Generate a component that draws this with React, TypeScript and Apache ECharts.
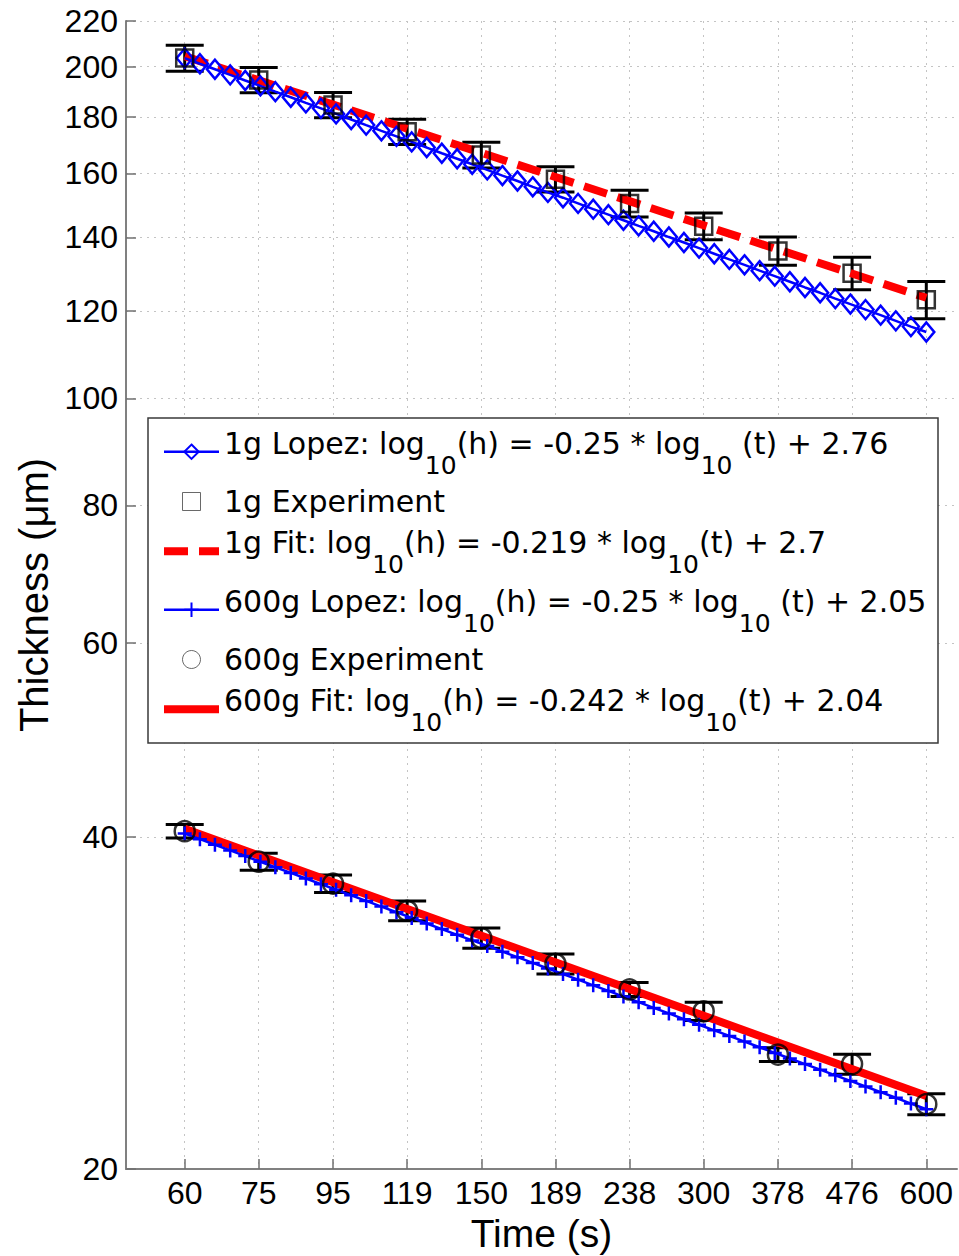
import React, { useEffect, useRef } from 'react';
import * as echarts from 'echarts';

// ---------- axis ticks ----------
const xTickValues = [60, 75.5, 95.1, 119.7, 150.7, 189.7, 238.8, 300.6, 378.5, 476.5, 600];
const xTickLabels = ['60', '75', '95', '119', '150', '189', '238', '300', '378', '476', '600'];
const yTickValues = [20, 40, 60, 80, 100, 120, 140, 160, 180, 200, 220];
const xMin = 50;
const xMax = 660;
const yMin = 20;
const yMax = 220;

// ---------- experiments ----------
const expTimes = [60, 75.5, 95.1, 119.7, 150.7, 189.7, 238.8, 300.6, 378.5, 476.5, 600];
const exp1g = [203.6, 194.5, 184.6, 174.6, 166.3, 158.1, 150.3, 143.3, 136.1, 129.9, 122.9];
const err1g = [5.5, 5.1, 4.9, 4.6, 4.5, 4.2, 4.2, 4.0, 4.0, 4.4, 4.8];
const exp600g = [40.5, 38.0, 36.3, 34.3, 32.4, 30.7, 29.1, 27.8, 25.4, 24.9, 22.9];
const err600g = [0.57, 0.67, 0.66, 0.7, 0.68, 0.64, 0.43, 0.53, 0.37, 0.52, 0.5];

// ---------- Lopez model curves ----------
const lopezTimes = [60.0, 62.9, 65.9, 69.1, 72.4, 75.9, 79.5, 83.4, 87.4, 91.6, 96.0, 100.6, 105.4, 110.5, 115.8, 121.4, 127.2, 133.3, 139.8, 146.5, 153.5, 160.9, 168.6, 176.8, 185.3, 194.2, 203.5, 213.3, 223.6, 234.3, 245.6, 257.4, 269.8, 282.7, 296.3, 310.6, 325.5, 341.2, 357.6, 374.8, 392.8, 411.7, 431.5, 452.3, 474.0, 496.8, 520.7, 545.8, 572.0, 600.0];
const lopez1g = [203.6, 201.2, 198.9, 196.6, 194.3, 192.1, 189.8, 187.6, 185.4, 183.3, 181.2, 179.1, 177.0, 174.9, 172.9, 170.9, 168.9, 166.9, 165.0, 163.1, 161.2, 159.3, 157.5, 155.6, 153.8, 152.1, 150.3, 148.5, 146.8, 145.1, 143.4, 141.8, 140.1, 138.5, 136.9, 135.3, 133.7, 132.2, 130.6, 129.1, 127.6, 126.1, 124.7, 123.2, 121.8, 120.4, 119.0, 117.6, 116.2, 114.9];
const lopez600g = [40.3, 39.83, 39.37, 38.91, 38.45, 38.0, 37.56, 37.12, 36.69, 36.26, 35.84, 35.42, 35.01, 34.6, 34.19, 33.79, 33.4, 33.01, 32.62, 32.24, 31.87, 31.49, 31.13, 30.76, 30.4, 30.05, 29.7, 29.35, 29.01, 28.67, 28.34, 28.0, 27.68, 27.35, 27.03, 26.72, 26.41, 26.1, 25.79, 25.49, 25.19, 24.9, 24.61, 24.32, 24.04, 23.76, 23.48, 23.21, 22.93, 22.66];

// ---------- fits ----------
const fitTimes = [60, 600];
const fit1g = [204.4, 123.4];
const fit600g = [40.7, 23.3];

// ---------- names ----------
const N1 = '1g Lopez: log10(h) = -0.25 * log10 (t) + 2.76';
const N2 = '1g Experiment';
const N3 = '1g Fit: log10(h) = -0.219 * log10(t) + 2.7';
const N4 = '600g Lopez: log10(h) = -0.25 * log10 (t) + 2.05';
const N5 = '600g Experiment';
const N6 = '600g Fit: log10(h) = -0.242 * log10(t) + 2.04';

const AX_FONT = "'Liberation Sans', Arial, Helvetica, sans-serif";
const LG_FONT = "'DejaVu Sans', sans-serif";
const lg = (v: number) => Math.log10(v);

const pts = (ts: number[], hs: number[]) => ts.map((t, i) => [lg(t), lg(hs[i])]);
const errPts = (ts: number[], hs: number[], es: number[]) =>
  ts.map((t, i) => [lg(t), lg(hs[i] - es[i]), lg(hs[i] + es[i])]);

const errorBarRender = (params: any, api: any) => {
  const x = api.value(0);
  const lo = api.coord([x, api.value(1)]);
  const hi = api.coord([x, api.value(2)]);
  const hw = 19;
  const st = { stroke: '#000', lineWidth: 3 };
  return {
    type: 'group',
    children: [
      { type: 'line', shape: { x1: lo[0], y1: lo[1], x2: hi[0], y2: hi[1] }, style: st },
      { type: 'line', shape: { x1: lo[0] - hw, y1: lo[1], x2: lo[0] + hw, y2: lo[1] }, style: st },
      { type: 'line', shape: { x1: hi[0] - hw, y1: hi[1], x2: hi[0] + hw, y2: hi[1] }, style: st },
    ],
  };
};

const PLUS = 'path://M0,6L12,6M6,0L6,12';
const SQUARE = 'path://M0,0L10,0L10,10L0,10Z';
const CLEAR = 'rgba(0,0,0,0)';

export default function App() {
  const ref = useRef<HTMLDivElement>(null);
  useEffect(() => {
    if (!ref.current) return;
    const chart = echarts.init(ref.current, undefined, { renderer: 'svg' });
    const xLabel = (v: number) => {
      const i = xTickValues.findIndex((t) => Math.abs(lg(t) - v) < 1e-6);
      return i >= 0 ? xTickLabels[i] : '';
    };
    const yLabel = (v: number) => String(Math.round(Math.pow(10, v)));
    const gridLine = { show: true, lineStyle: { color: '#c4c4c4', width: 1, type: [2, 5] } };

    chart.setOption({
      animation: false,
      backgroundColor: '#fff',
      grid: { left: 126, right: 2, top: 21, bottom: 87, outerBoundsMode: 'none' },
      xAxis: {
        type: 'value',
        min: lg(xMin),
        max: lg(xMax),
        axisLine: { show: true, onZero: false, lineStyle: { color: '#808080', width: 2 } },
        axisTick: {
          show: true,
          inside: true,
          length: 10,
          customValues: xTickValues.map(lg),
          lineStyle: { color: '#707070', width: 1.5 },
        },
        axisLabel: {
          customValues: xTickValues.map(lg),
          formatter: xLabel,
          fontSize: 32,
          color: '#000',
          fontFamily: AX_FONT,
          margin: 8,
        },
        splitLine: gridLine,
        name: 'Time (s)',
        nameLocation: 'middle',
        nameGap: 40,
        nameTextStyle: { fontSize: 39, color: '#000', fontFamily: AX_FONT },
      },
      yAxis: {
        type: 'value',
        min: lg(yMin),
        max: lg(yMax),
        axisLine: { show: true, onZero: false, lineStyle: { color: '#808080', width: 2 } },
        axisTick: {
          show: true,
          inside: true,
          length: 10,
          customValues: yTickValues.map(lg),
          lineStyle: { color: '#707070', width: 1.5 },
        },
        axisLabel: {
          customValues: yTickValues.map(lg),
          formatter: yLabel,
          fontSize: 32,
          color: '#000',
          fontFamily: AX_FONT,
          margin: 8,
        },
        splitLine: gridLine,
        name: 'Thickness (μm)',
        nameLocation: 'middle',
        nameGap: 72,
        nameRotate: 90,
        nameTextStyle: { fontSize: 40, color: '#000', fontFamily: AX_FONT },
      },
      legend: {
        orient: 'vertical',
        left: 148,
        top: 418,
        padding: [8, 10, 8, 12],
        itemGap: 7,
        itemWidth: 55,
        itemHeight: 18,
        selectedMode: false,
        lineStyle: { width: 'inherit' },
        data: [
          { name: N1 },
          { name: N2, icon: SQUARE, itemStyle: { color: CLEAR, borderColor: '#444', borderWidth: 1 } },
          { name: N3 },
          { name: N4 },
          { name: N5, icon: 'circle', itemStyle: { color: CLEAR, borderColor: '#444', borderWidth: 1 } },
          { name: N6 },
        ],
        formatter: (name: string) => '{m|' + name.replace(/log10/g, 'log}{s|10}{m|') + '}',
        textStyle: {
          fontFamily: LG_FONT,
          fontSize: 30,
          color: '#000',
          rich: {
            m: { fontFamily: LG_FONT, fontSize: 30, color: '#000', height: 34, lineHeight: 34, verticalAlign: 'top' },
            s: { fontFamily: LG_FONT, fontSize: 25, color: '#000', height: 25, padding: [26.5, 0, 0, 0], verticalAlign: 'top' },
          },
        },
      },
      graphic: [
        {
          type: 'rect',
          z: 3,
          shape: { x: 148, y: 418, width: 790, height: 325 },
          style: { fill: '#fff', stroke: '#3a3a3a', lineWidth: 1.5 },
        },
      ],
      series: [
        {
          name: N3,
          type: 'line',
          data: pts(fitTimes, fit1g),
          symbol: 'none',
          itemStyle: { color: CLEAR },
          lineStyle: { color: '#ff0000', width: 8, type: [24, 11] },
          z: 2,
        },
        {
          name: N1,
          type: 'line',
          data: pts(lopezTimes, lopez1g),
          symbol: 'diamond',
          symbolSize: [16, 19],
          itemStyle: { color: CLEAR, borderColor: '#0000ff', borderWidth: 2.5 },
          lineStyle: { color: '#0000ff', width: 2.5 },
          z: 2,
        },
        {
          name: 'err1g',
          type: 'custom',
          data: errPts(expTimes, exp1g, err1g),
          encode: { x: 0, y: [1, 2] },
          renderItem: errorBarRender,
          z: 2,
        },
        {
          name: N2,
          type: 'scatter',
          data: pts(expTimes, exp1g),
          symbol: 'rect',
          symbolSize: 17,
          itemStyle: { color: CLEAR, borderColor: '#000', borderWidth: 2.5 },
          z: 2,
        },
        {
          name: N6,
          type: 'line',
          data: pts(fitTimes, fit600g),
          symbol: 'none',
          itemStyle: { color: CLEAR },
          lineStyle: { color: '#ff0000', width: 8 },
          z: 2,
        },
        {
          name: N4,
          type: 'line',
          data: pts(lopezTimes, lopez600g),
          symbol: PLUS,
          symbolSize: 14,
          itemStyle: { color: '#0000ff', borderColor: '#0000ff', borderWidth: 2.5 },
          lineStyle: { color: '#0000ff', width: 2.5 },
          z: 2,
        },
        {
          name: 'err600g',
          type: 'custom',
          data: errPts(expTimes, exp600g, err600g),
          encode: { x: 0, y: [1, 2] },
          renderItem: errorBarRender,
          z: 2,
        },
        {
          name: N5,
          type: 'scatter',
          data: pts(expTimes, exp600g),
          symbol: 'circle',
          symbolSize: 20,
          itemStyle: { color: CLEAR, borderColor: '#000', borderWidth: 2.5 },
          z: 2,
        },
      ],
    });
    return () => chart.dispose();
  }, []);

  return (
    <div
      ref={ref}
      style={{ position: 'absolute', left: 0, top: 0, width: 959, height: 1256, background: '#fff' }}
    />
  );
}
